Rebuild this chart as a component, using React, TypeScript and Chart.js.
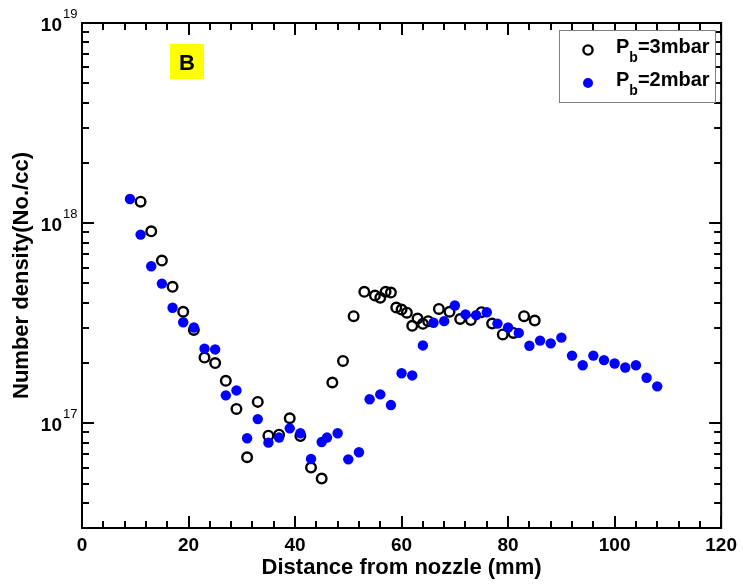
import React, { useEffect, useRef } from "react";
import { Chart, registerables } from "chart.js";

Chart.register(...registerables);

const FONT = "'Liberation Sans', Arial, Helvetica, sans-serif";

// P_b = 3 mbar (open black circles)
const x3mbar = [11, 13, 15, 17, 19, 21, 23, 25, 27, 29, 31, 33, 35, 37, 39, 41, 43, 45, 47, 49, 51, 53, 55, 56, 57, 58, 59, 60, 61, 62, 63, 64, 65, 67, 69, 71, 73, 75, 77, 79, 81, 83, 85];
const y3mbar = [1.28e18, 9.1e17, 6.5e17, 4.81e17, 3.61e17, 2.93e17, 2.13e17, 2.0e17, 1.63e17, 1.18e17, 6.77e16, 1.28e17, 8.68e16, 8.78e16, 1.06e17, 8.64e16, 6.01e16, 5.3e16, 1.6e17, 2.05e17, 3.43e17, 4.54e17, 4.35e17, 4.24e17, 4.54e17, 4.5e17, 3.79e17, 3.7e17, 3.57e17, 3.07e17, 3.34e17, 3.14e17, 3.24e17, 3.73e17, 3.61e17, 3.32e17, 3.28e17, 3.59e17, 3.15e17, 2.78e17, 2.83e17, 3.43e17, 3.26e17];

// P_b = 2 mbar (filled blue)
const x2mbar = [9, 11, 13, 15, 17, 19, 21, 23, 25, 27, 29, 31, 33, 35, 37, 39, 41, 43, 45, 46, 48, 50, 52, 54, 56, 58, 60, 62, 64, 66, 68, 70, 72, 74, 76, 78, 80, 82, 84, 86, 88, 90, 92, 94, 96, 98, 100, 102, 104, 106, 108];
const y2mbar = [1.32e18, 8.77e17, 6.09e17, 4.99e17, 3.78e17, 3.2e17, 3.01e17, 2.36e17, 2.34e17, 1.38e17, 1.46e17, 8.42e16, 1.05e17, 8.01e16, 8.49e16, 9.44e16, 8.92e16, 6.64e16, 8.07e16, 8.49e16, 8.92e16, 6.61e16, 7.17e16, 1.32e17, 1.395e17, 1.234e17, 1.78e17, 1.735e17, 2.45e17, 3.18e17, 3.24e17, 3.88e17, 3.5e17, 3.47e17, 3.59e17, 3.15e17, 3.01e17, 2.83e17, 2.44e17, 2.59e17, 2.51e17, 2.68e17, 2.18e17, 1.95e17, 2.18e17, 2.07e17, 1.99e17, 1.9e17, 1.95e17, 1.69e17, 1.53e17];

const xMajorTicks = [0, 20, 40, 60, 80, 100, 120];
const xMinorStep = 4;
const yMajorTicks = [1e17, 1e18, 1e19];
const yMinorTicks = [4e16, 5e16, 6e16, 7e16, 8e16, 9e16, 2e17, 3e17, 4e17, 5e17, 6e17, 7e17, 8e17, 9e17, 2e18, 3e18, 4e18, 5e18, 6e18, 7e18, 8e18, 9e18];
const yExponents = ["17", "18", "19"];

const legendLabels = [
  { main: "P", sub: "b", rest: "=3mbar" },
  { main: "P", sub: "b", rest: "=2mbar" },
];
const panelLabel = "B";

const framePlugin = {
  id: "framePlugin",
  afterDraw(chart: any) {
    const ctx = chart.ctx;
    const { left, right, top, bottom } = chart.chartArea;
    const xs = chart.scales.x;
    const ys = chart.scales.y;
    ctx.save();
    ctx.strokeStyle = "#000";
    ctx.lineWidth = 2;
    ctx.strokeRect(left, top, right - left, bottom - top);
    ctx.beginPath();
    // x ticks
    for (let v = 0; v <= 120; v += xMinorStep) {
      const px = Math.round(xs.getPixelForValue(v));
      const len = xMajorTicks.includes(v) ? 12 : 7;
      ctx.moveTo(px, bottom);
      ctx.lineTo(px, bottom - len);
      ctx.moveTo(px, top);
      ctx.lineTo(px, top + len);
    }
    // y ticks
    yMajorTicks.forEach((v) => {
      const py = Math.round(ys.getPixelForValue(v));
      ctx.moveTo(left, py);
      ctx.lineTo(left + 12, py);
      ctx.moveTo(right, py);
      ctx.lineTo(right - 12, py);
    });
    yMinorTicks.forEach((v) => {
      const py = Math.round(ys.getPixelForValue(v));
      ctx.moveTo(left, py);
      ctx.lineTo(left + 7, py);
      ctx.moveTo(right, py);
      ctx.lineTo(right - 7, py);
    });
    ctx.stroke();

    // y tick labels with superscripts
    ctx.fillStyle = "#000";
    yMajorTicks.forEach((v, i) => {
      const py = ys.getPixelForValue(v);
      ctx.font = `bold 19px ${FONT}`;
      ctx.textAlign = "right";
      ctx.textBaseline = "alphabetic";
      ctx.fillText("10", left - 20, py + 7.5);
      ctx.font = `13px ${FONT}`;
      ctx.textAlign = "left";
      ctx.fillText(yExponents[i], left - 19, py - 5);
    });

    // panel label
    ctx.fillStyle = "#FFFF00";
    ctx.fillRect(170, 44, 34, 35);
    ctx.fillStyle = "#000";
    ctx.font = `bold 22px ${FONT}`;
    ctx.textAlign = "center";
    ctx.textBaseline = "alphabetic";
    ctx.fillText(panelLabel, 187, 69.5);

    // legend
    ctx.fillStyle = "#fff";
    ctx.fillRect(559, 30, 156, 72);
    ctx.strokeStyle = "#808080";
    ctx.lineWidth = 1;
    ctx.strokeRect(559.5, 30.5, 156, 72);
    const rows = [50, 83];
    // marker 1: open circle
    ctx.strokeStyle = "#000";
    ctx.lineWidth = 2.4;
    ctx.beginPath();
    ctx.arc(588, rows[0], 4.6, 0, Math.PI * 2);
    ctx.stroke();
    // marker 2: filled blue
    ctx.fillStyle = "#0000FF";
    ctx.beginPath();
    ctx.arc(588, rows[1], 5, 0, Math.PI * 2);
    ctx.fill();
    ctx.fillStyle = "#000";
    legendLabels.forEach((lab, i) => {
      const base = rows[i] + 3;
      let x = 616;
      ctx.textAlign = "left";
      ctx.font = `bold 20px ${FONT}`;
      ctx.fillText(lab.main, x, base);
      x += ctx.measureText(lab.main).width;
      ctx.font = `bold 14px ${FONT}`;
      ctx.fillText(lab.sub, x, base + 9);
      x += ctx.measureText(lab.sub).width;
      ctx.font = `bold 20px ${FONT}`;
      ctx.fillText(lab.rest, x, base);
    });
    ctx.restore();
  },
};

export default function App() {
  const ref = useRef<HTMLCanvasElement | null>(null);
  useEffect(() => {
    document.body.style.margin = "0";
    const canvas = ref.current!;
    const chart = new Chart(canvas, {
      type: "scatter",
      data: {
        datasets: [
          {
            label: "Pb=2mbar",
            data: x2mbar.map((x, i) => ({ x, y: y2mbar[i] })),
            pointBackgroundColor: "#0000FF",
            pointBorderColor: "#0000FF",
            pointBorderWidth: 0,
            pointRadius: 5.2,
            order: 0,
          },
          {
            label: "Pb=3mbar",
            data: x3mbar.map((x, i) => ({ x, y: y3mbar[i] })),
            pointBackgroundColor: "rgba(0,0,0,0)",
            pointBorderColor: "#000",
            pointBorderWidth: 2.4,
            pointRadius: 4.8,
            order: 1,
          },
        ],
      },
      options: {
        responsive: false,
        animation: false,
        devicePixelRatio: 1,
        layout: { padding: { top: 23, right: 20, left: 0, bottom: 0 } },
        plugins: { legend: { display: false }, tooltip: { enabled: false } },
        scales: {
          x: {
            type: "linear",
            min: 0,
            max: 120,
            afterFit: (s: any) => {
              s.height = 58;
            },
            grid: { display: false, drawTicks: false },
            border: { display: false },
            ticks: {
              stepSize: 20,
              color: "#000",
              padding: 6,
              maxRotation: 0,
              font: { family: FONT, size: 19, weight: "bold" },
            },
            title: {
              display: true,
              text: "Distance from nozzle (mm)",
              color: "#000",
              font: { family: FONT, size: 22, weight: "bold" },
              padding: { top: 0, bottom: 5 },
            },
          },
          y: {
            type: "logarithmic",
            min: 3e16,
            max: 1e19,
            afterFit: (s: any) => {
              s.width = 82;
            },
            grid: { display: false, drawTicks: false },
            border: { display: false },
            ticks: { display: false },
            title: {
              display: true,
              text: "Number density(No./cc)",
              color: "#000",
              font: { family: FONT, size: 22, weight: "bold" },
              padding: { top: 9, bottom: 0 },
            },
          },
        },
      } as any,
      plugins: [framePlugin],
    });
    return () => chart.destroy();
  }, []);
  return (
    <canvas
      ref={ref}
      width={743}
      height={586}
      style={{ display: "block", width: 743, height: 586 }}
    />
  );
}
